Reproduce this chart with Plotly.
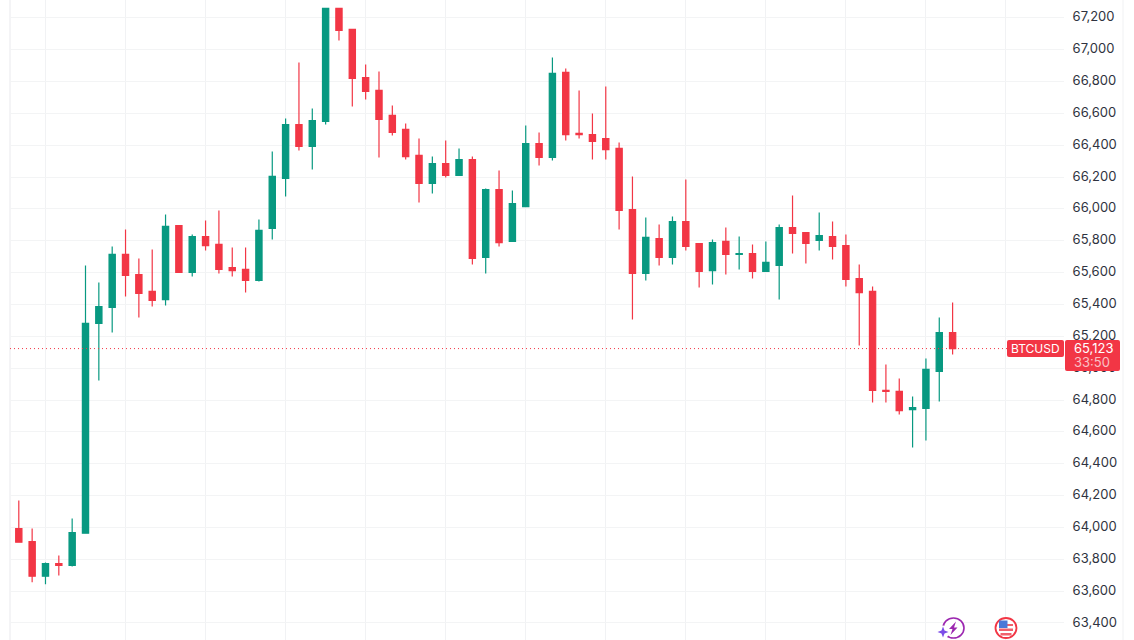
import plotly.graph_objects as go

# Each candle: open, high, low, close (USD)
opens = [63993,63911,63694,63773,63761,63964,65281,65381,65714,65588,65482,65431,65896,65601,65827,65777,65632,65620,65551,65877,
         66191,66530,66392,66549,67259,67127,66825,66744,66587,66499,66336,66160,66285,66210,66310,65695,66122,65796,66015,66411,
         66323,66857,66474,66467,66442,66380,65996,65595,65814,65695,65921,65783,65613,65796,65714,65720,65607,65645,65883,65852,
         65802,65827,65770,65563,65482,64860,64854,64740,64747,64979,65224]
highs = [64169,63993,63780,63824,64056,65645,65538,65764,65871,65689,65745,65965,65896,65839,65927,65990,65758,65758,65934,66361,
         66568,66920,66631,67259,67259,67127,66907,66863,66650,66537,66442,66329,66430,66380,66329,66128,66241,66116,66524,66480,
         66951,66882,66744,66599,66769,66417,66204,65946,65902,65953,66185,65783,65808,65883,65827,65777,65796,65902,66084,65852,
         65978,65921,65839,65651,65513,65023,64935,64822,65061,65318,65412]
lows = [63907,63656,63643,63698,63755,63964,64923,65224,65450,65318,65387,65394,65601,65576,65739,65595,65576,65475,65544,65808,
        66078,66367,66248,66530,67058,66643,66687,66323,66461,66310,66040,66097,66197,66210,65651,65595,65764,65796,66015,66273,
        66304,66430,66442,66310,66310,65871,65306,65551,65645,65651,65739,65507,65525,65588,65620,65563,65607,65431,65720,65657,
        65739,65682,65513,65142,64784,64784,64709,64502,64546,64791,65086]
closes = [63907,63694,63773,63761,63968,65281,65387,65714,65582,65469,65425,65890,65601,65827,65770,65620,65613,65551,65865,66204,
          66530,66392,66555,67259,67121,66819,66738,66562,66480,66329,66160,66285,66210,66310,65689,66122,65789,66034,66411,66323,
          66851,66467,66467,66424,66373,65990,65595,65821,65695,65921,65764,65607,65789,65714,65720,65607,65664,65883,65846,65783,
          65833,65764,65557,65475,64860,64854,64734,64753,64992,65224,65123]
candle_index = list(range(len(opens)))
price_ticks = [63400,63600,63800,64000,64200,64400,64600,64800,65000,65200,65400,65600,65800,66000,
               66200,66400,66600,66800,67000,67200]
time_ticks = [2,8,14,20,26,32,38,44,50,56,62,68,74]
current_price = 65123
symbol = "BTCUSD"
price_label = "65,123"
countdown = "33:50"

UP = "#089981"
DOWN = "#F23645"
W, H = 1134, 640
L, R = 10, 1064

def px(x):
    return (x - L) / (R - L)
def py(y):
    return 1 - y / H

def poly(points):
    return "M" + " L".join(f"{px(a)},{py(b)}" for a, b in points) + " Z"

def round_rect(x0, y0, x1, y1, r=2):
    return (f"M{px(x0+r)},{py(y0)} L{px(x1-r)},{py(y0)} Q{px(x1)},{py(y0)} {px(x1)},{py(y0+r)} "
            f"L{px(x1)},{py(y1-r)} Q{px(x1)},{py(y1)} {px(x1-r)},{py(y1)} "
            f"L{px(x0+r)},{py(y1)} Q{px(x0)},{py(y1)} {px(x0)},{py(y1-r)} "
            f"L{px(x0)},{py(y0+r)} Q{px(x0)},{py(y0)} {px(x0+r)},{py(y0)} Z")

fig = go.Figure(go.Candlestick(
    x=candle_index, open=opens, high=highs, low=lows, close=closes,
    increasing=dict(line=dict(color=UP, width=1.2), fillcolor=UP),
    decreasing=dict(line=dict(color=DOWN, width=1.2), fillcolor=DOWN),
    whiskerwidth=0, hoverinfo="skip", showlegend=False,
))

P = dict(xref="paper", yref="paper", layer="above")
shapes = [
    dict(type="line", xref="paper", x0=0, x1=px(1007), yref="y", y0=current_price, y1=current_price,
         line=dict(color=DOWN, width=1, dash="1px 3px"), layer="above"),
    dict(type="line", xref="paper", x0=0, x1=0, yref="paper", y0=0, y1=1,
         line=dict(color="#F0F1F3", width=1.5), layer="below"),
    dict(type="line", xref="paper", x0=px(1123), x1=px(1123), yref="paper", y0=0, y1=1,
         line=dict(color="#F0F1F3", width=1), layer="below"),
    dict(type="path", path=round_rect(1007, 340, 1064, 357), fillcolor=DOWN, line=dict(width=0), **P),
    dict(type="path", path=round_rect(1065, 340, 1120, 371), fillcolor=DOWN, line=dict(width=0), **P),
    # lightning badge
    dict(type="circle", x0=px(943), x1=px(964), y0=py(638), y1=py(618),
         line=dict(color="#9C27B0", width=1.6), fillcolor="white", **P),
    dict(type="path", fillcolor="#9C27B0", line=dict(width=0),
         path=poly([(956, 621.5), (949, 629), (952.5, 629), (950.5, 635), (957.5, 627.5), (954, 627.5)]), **P),
    dict(type="circle", x0=px(936.5), x1=px(949.5), y0=py(638.5), y1=py(625.5),
         line=dict(width=0), fillcolor="white", **P),
    dict(type="path", fillcolor="#7C4DE8", line=dict(width=0),
         path=poly([(943, 626.5), (944.5, 630.5), (948.5, 632), (944.5, 633.5), (943, 637.5),
                    (941.5, 633.5), (937.5, 632), (941.5, 630.5)]), **P),
    # flag badge
    dict(type="circle", x0=px(995.5), x1=px(1016.5), y0=py(638), y1=py(618),
         line=dict(color="#F23645", width=1.8), fillcolor="white", **P),
    dict(type="rect", x0=px(999), x1=px(1013), y0=py(631), y1=py(628.5),
         fillcolor="#F0616D", line=dict(width=0), **P),
    dict(type="rect", x0=px(1000.5), x1=px(1011.5), y0=py(635.5), y1=py(633),
         fillcolor="#F0616D", line=dict(width=0), **P),
    dict(type="rect", x0=px(1003), x1=px(1013), y0=py(626), y1=py(624),
         fillcolor="#F0616D", line=dict(width=0), **P),
    dict(type="rect", x0=px(999), x1=px(1007.5), y0=py(628), y1=py(620.5),
         fillcolor="#4A78D8", line=dict(width=0), **P),
]

font = "Inter, 'Open Sans', sans-serif"
annotations = [
    dict(text=symbol, xref="paper", yref="paper", x=px(1035.5), y=py(348.7), showarrow=False,
         xanchor="center", yanchor="middle", font=dict(family=font, size=12, color="white")),
    dict(text=price_label, xref="paper", yref="paper", x=px(1073), y=py(348), showarrow=False,
         xanchor="left", yanchor="middle", xshift=-1.5, font=dict(family=font, size=13, color="white")),
    dict(text=countdown, xref="paper", yref="paper", x=px(1073), y=py(361.5), showarrow=False,
         xanchor="left", yanchor="middle", xshift=-1.5, font=dict(family=font, size=13, color="#F9C0C5")),
]

fig.update_layout(
    width=W, height=H, autosize=False,
    margin=dict(l=L, r=W - R, t=0, b=0, pad=0),
    paper_bgcolor="white", plot_bgcolor="white",
    boxgap=0.33, showlegend=False, dragmode=False,
    xaxis=dict(range=[-0.66, 78.35], tickmode="array", tickvals=time_ticks, showticklabels=False,
               showgrid=True, gridcolor="#F1F2F4", gridwidth=1, zeroline=False, ticks="",
               rangeslider=dict(visible=False), showline=False),
    yaxis=dict(range=[63293, 67312], side="right", tickmode="array", tickvals=price_ticks,
               ticktext=[f"{v:,}" for v in price_ticks], ticks="outside", ticklen=5, tickcolor="rgba(0,0,0,0)",
               ticklabelshift=-1,
               showgrid=True, gridcolor="#F3F4F5", gridwidth=1, zeroline=False, showline=False,
               tickfont=dict(family=font, size=13, color="#2F3340")),
    shapes=shapes, annotations=annotations,
)

fig.write_html("out.html", config=dict(displayModeBar=False),
               post_script="document.body.style.margin='0';")
